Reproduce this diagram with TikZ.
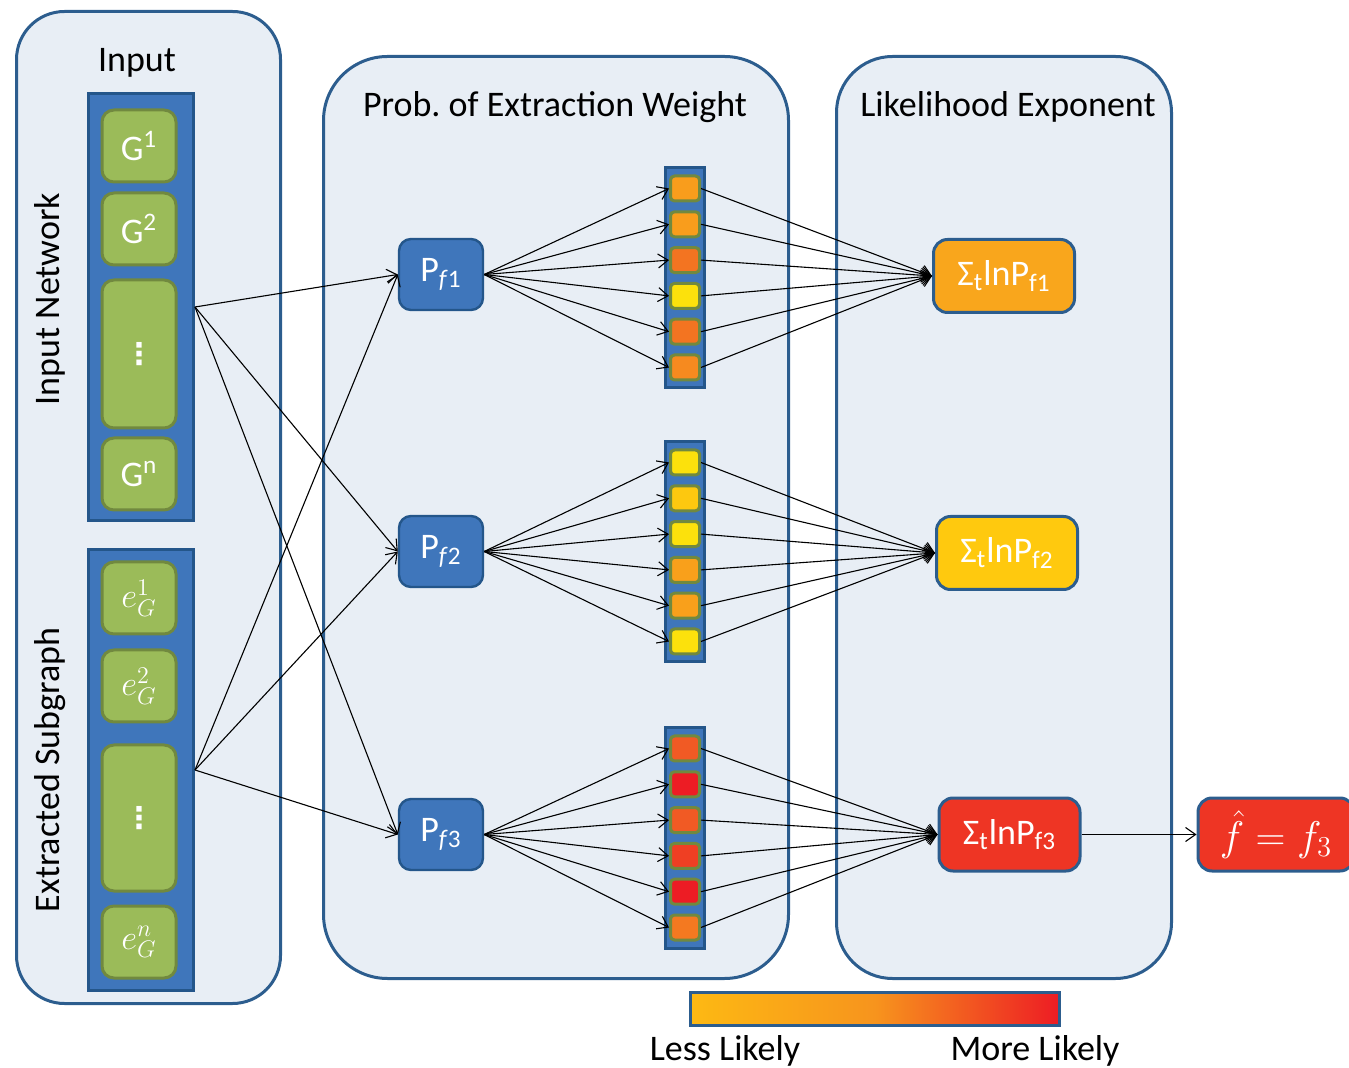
\documentclass[tikz,border=0pt]{standalone}
\usepackage{fontspec}
\setmainfont{Carlito}
\newfontfamily\symfont{DejaVu Sans}
\usetikzlibrary{positioning, arrows.meta, calc}

\definecolor{panelfill}{HTML}{E8EEF5}
\definecolor{paneldraw}{HTML}{2C5D8E}
\definecolor{barfill}{HTML}{3F76BB}
\definecolor{bardraw}{HTML}{24568A}
\definecolor{greenfill}{HTML}{9BBB59}
\definecolor{greendraw}{HTML}{71893F}
\definecolor{cOr}{HTML}{F99D1C}
\definecolor{cDk}{HTML}{F37421}
\definecolor{cAm}{HTML}{F68A1F}
\definecolor{cYe}{HTML}{FCE10C}
\definecolor{cYo}{HTML}{FDC80F}
\definecolor{cLo}{HTML}{F9A01B}
\definecolor{cRo}{HTML}{F15A24}
\definecolor{cRd}{HTML}{ED1C24}
\definecolor{cRe}{HTML}{EF3F23}
\definecolor{cTn}{HTML}{F47920}
\definecolor{sumA}{HTML}{F9A61C}
\definecolor{sumB}{HTML}{FFC90E}
\definecolor{sumC}{HTML}{EE3524}
\definecolor{legA}{HTML}{FDB913}
\definecolor{legM}{HTML}{F7941D}

\frenchspacing

\begin{document}
\begin{tikzpicture}[
    x=0.5pt, y=-0.5pt,
    font=\fontsize{18}{21}\selectfont,
    panel/.style={
        rectangle, draw=paneldraw, fill=panelfill,
        line width=1.5pt, inner sep=0pt,
    },
    bar/.style={
        rectangle, draw=bardraw, fill=barfill,
        line width=1.5pt, inner sep=0pt,
    },
    gbox/.style={
        rectangle, rounded corners=6pt,
        draw=greendraw, fill=greenfill, line width=1.5pt,
        text=white, minimum width=37pt, minimum height=36pt, inner sep=0pt,
    },
    pbox/.style={
        rectangle, rounded corners=6pt,
        draw=bardraw, fill=barfill, line width=1.2pt,
        text=white, minimum width=42pt, minimum height=35.5pt, inner sep=0pt,
    },
    cell/.style={
        rectangle, rounded corners=2pt, draw=greendraw, line width=1.5pt,
        minimum width=14.5pt, minimum height=12.5pt, inner sep=0pt,
    },
    sbox/.style={
        rectangle, rounded corners=7pt, draw=paneldraw, line width=1.5pt,
        text=white, minimum width=70.5pt, minimum height=36.5pt, inner sep=0pt,
    },
    link/.style={-{Straight Barb[length=5pt, width=7pt]}, draw=black, line width=0.55pt},
]

\clip (0,0) rectangle (1349,1068);

% --- Panels ---
\node[panel, rounded corners=24pt, minimum width=132pt, minimum height=496pt] (inpanel) at (148.5,507.5) {};
\node[panel, rounded corners=32pt, minimum width=232.5pt, minimum height=461pt] (wpanel) at (556,517.5) {};
\node[panel, rounded corners=28pt, minimum width=167.5pt, minimum height=461pt] (lpanel) at (1004,517.5) {};

\node (tin) at (137,63) {Input};
\node (tw) at (555,107) {Prob. of Extraction Weight};
\node (tl) at (1008,107) {Likelihood Exponent};

\node[rotate=90] (tnet) at (50,299) {Input Network};
\node[rotate=90] (tsub) at (50,770) {Extracted Subgraph};

% --- Input columns ---
\node[bar, minimum width=52.5pt, minimum height=213.5pt] (netbar) at (141,307) {};
\node[gbox] (g1) at (139,146) {G\textsuperscript{1}};
\node[gbox, below=4pt of g1] (g2) {G\textsuperscript{2}};
\node[gbox, minimum height=74pt, below=6pt of g2] (gdots) {\symfont\bfseries\fontsize{15}{17}\selectfont ⋮};
\node[gbox, below=3.5pt of gdots] (gn) {G\textsuperscript{n}};

\node[bar, minimum width=52.5pt, minimum height=220.5pt] (subbar) at (141,770) {};
\node[gbox] (e1) at (139,598) {$e_G^1$};
\node[gbox, below=6.5pt of e1] (e2) {$e_G^2$};
\node[gbox, minimum height=73pt, below=10pt of e2] (edots) {\symfont\bfseries\fontsize{15}{17}\selectfont ⋮};
\node[gbox, below=6pt of edots] (en) {$e_G^n$};

% --- Extraction weights ---
\node[pbox] (p1) at (441,274.5) {P\textsubscript{\textit{f}1}};
\node[pbox] (p2) at (441,551.5) {P\textsubscript{\textit{f}2}};
\node[pbox] (p3) at (441,834.5) {P\textsubscript{\textit{f}3}};

\foreach \p in {1,2,3}{
    \draw[link] (netbar.east) -- (p\p.west);
    \draw[link] (subbar.east) -- (p\p.west);
}

\node[bar, minimum width=19.5pt, minimum height=110pt] (bar1) at (685,278) {};
\node[bar, minimum width=19.5pt, minimum height=110pt] (bar2) at (685,552) {};
\node[bar, minimum width=19.5pt, minimum height=110pt] (bar3) at (685,838) {};

\foreach \c [count=\i] in {cOr, cOr, cDk, cYe, cDk, cAm}
    \node[cell, fill=\c] (c1\i) at (685,{278+(\i-3.5)*35.8}) {};
\foreach \c [count=\i] in {cYe, cYo, cYe, cLo, cLo, cYe}
    \node[cell, fill=\c] (c2\i) at (685,{552+(\i-3.5)*35.8}) {};
\foreach \c [count=\i] in {cRo, cRd, cRo, cRe, cRd, cTn}
    \node[cell, fill=\c] (c3\i) at (685,{838+(\i-3.5)*35.8}) {};

% --- Likelihood exponents ---
\node[sbox, fill=sumA] (s1) at (1004,276) {Σ\textsubscript{t}lnP\textsubscript{f1}};
\node[sbox, fill=sumB] (s2) at (1007,553) {Σ\textsubscript{t}lnP\textsubscript{f2}};
\node[sbox, fill=sumC] (s3) at (1009.5,834.5) {Σ\textsubscript{t}lnP\textsubscript{f3}};

\foreach \b in {1,2,3}
    \foreach \i in {1,...,6}{
        \draw[link] (p\b.east) -- (c\b\i.west);
        \draw[link] (c\b\i.east) -- (s\b.west);
    }

\node[sbox, fill=sumC, minimum width=78pt, font=\fontsize{19.5}{22}\selectfont] (fhat) at (1276,834.5) {$\hat{f}=f_3$};
\draw[link] (s3.east) -- (fhat.west);

% --- Legend ---
\node[rectangle, draw=paneldraw, line width=1.5pt, inner sep=0pt,
      left color=legA, right color=cRd, middle color=legM,
      minimum width=184.5pt, minimum height=16.5pt] (legbar) at (875,1009) {};
\node (less) at (725,1051) {Less Likely};
\node (more) at (1035,1051) {More Likely};

\end{tikzpicture}
\end{document}
